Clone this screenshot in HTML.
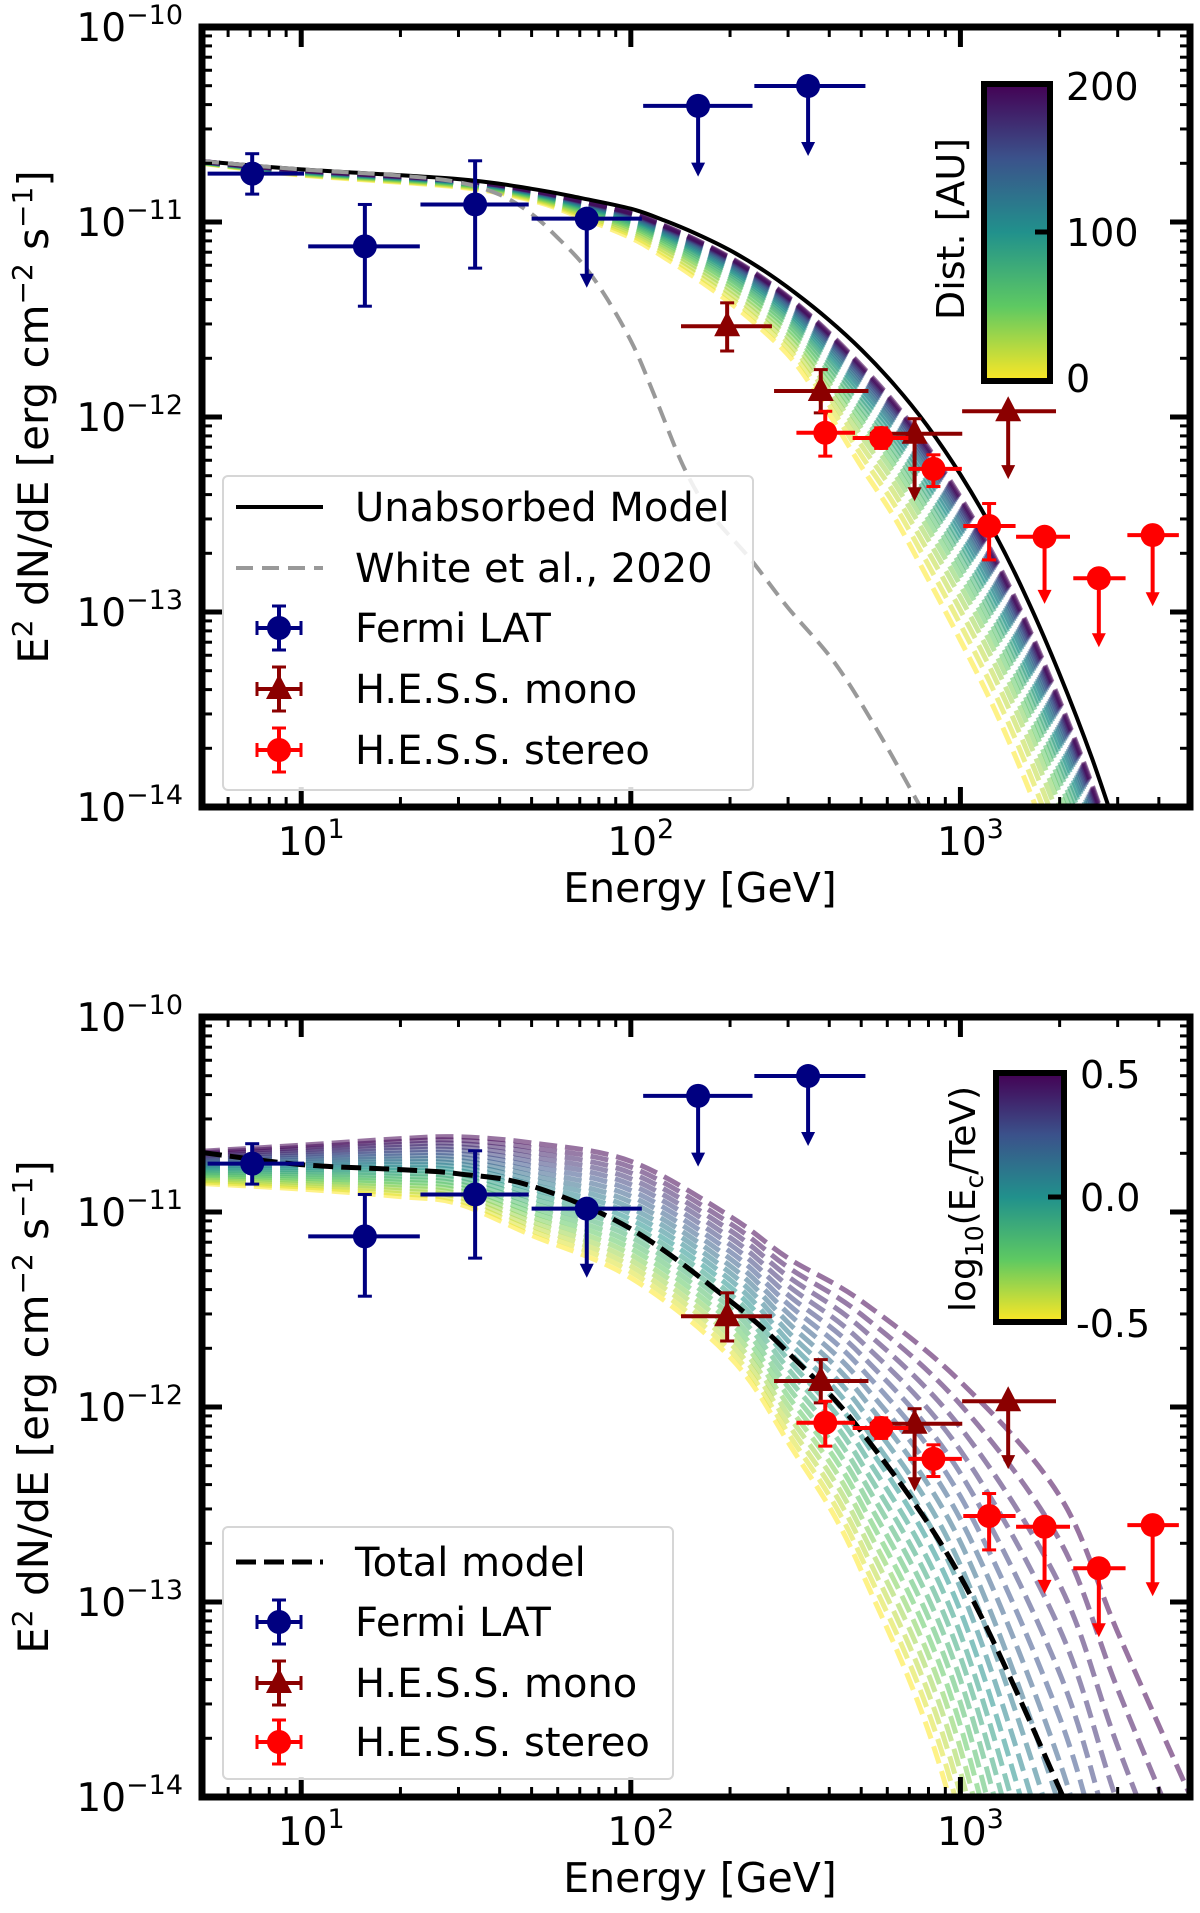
<!DOCTYPE html>
<html><head><meta charset="utf-8">
<style>
html,body{margin:0;padding:0;background:#fff;overflow:hidden;width:1200px;height:1913px;}
svg{display:block;font-family:"DejaVu Sans","Liberation Sans",sans-serif;}
</style></head>
<body>
<svg id="fig" width="1200" height="1913" viewBox="0 0 1200 1913" xmlns="http://www.w3.org/2000/svg">
<defs>
<linearGradient id="vir" x1="0" y1="1" x2="0" y2="0">
<stop offset="0" stop-color="#fde725"/><stop offset="0.25" stop-color="#5ec962"/><stop offset="0.5" stop-color="#21918c"/><stop offset="0.75" stop-color="#3b528b"/><stop offset="1" stop-color="#440154"/>
</linearGradient>
<clipPath id="clipTop"><rect x="202" y="27" width="988" height="780"/></clipPath>
<clipPath id="clipBot"><rect x="202" y="1017" width="988" height="780"/></clipPath>
</defs>
</svg>
<script>
// ---------- data ----------
const fermiE   = [7.1, 15.6, 33.7, 73.5, 160, 345];
const fermiF   = [1.77e-11, 7.5e-12, 1.23e-11, 1.04e-11, 3.94e-11, 4.98e-11];
const fermiElo = [5.2, 10.5, 23, 50, 109, 237];
const fermiEhi = [10.2, 22.9, 49, 108, 234, 515];
const fermiFlo = [1.39e-11, 3.7e-12, 5.8e-12, 4.6e-12, 1.71e-11, 2.18e-11];
const fermiFhi = [2.24e-11, 1.23e-11, 2.06e-11, 1.04e-11, 3.94e-11, 4.98e-11];
const fermiUL  = [0, 0, 0, 1, 1, 1];

const monoE   = [196, 377, 726, 1396];
const monoF   = [2.92e-12, 1.36e-12, 8.2e-13, 1.07e-12];
const monoElo = [142, 272, 531, 1012];
const monoEhi = [268, 526, 1013, 1950];
const monoFlo = [2.18e-12, 1.05e-12, 3.7e-13, 4.8e-13];
const monoFhi = [3.85e-12, 1.75e-12, 9.8e-13, 1.07e-12];
const monoUL  = [0, 0, 1, 1];

const stE   = [389, 575, 828, 1222, 1800, 2630, 3830];
const stF   = [8.3e-13, 7.8e-13, 5.42e-13, 2.76e-13, 2.43e-13, 1.49e-13, 2.48e-13];
const stElo = [318, 471, 695, 1020, 1475, 2200, 3210];
const stEhi = [479, 695, 1010, 1470, 2150, 3170, 4600];
const stFlo = [6.3e-13, 6.9e-13, 4.4e-13, 1.85e-13, 1.1e-13, 6.6e-14, 1.07e-13];
const stFhi = [1.07e-12, 8.8e-13, 6.4e-13, 3.6e-13, 2.43e-13, 1.49e-13, 2.48e-13];
const stUL  = [0, 0, 0, 0, 1, 1, 1];

// top panel models
const topGridE    = [5, 10, 30, 50, 70, 100, 126, 158, 200, 251, 316, 398, 501, 631, 794, 1000, 1259, 1585, 1995, 2512, 3162];
const unabsorbedF = [2.05e-11, 1.86e-11, 1.66e-11, 1.48e-11, 1.33e-11, 1.17e-11, 1.02e-11, 8.7e-12, 7.16e-12, 5.69e-12, 4.32e-12, 3.16e-12, 2.21e-12, 1.46e-12, 9.0e-13, 5.07e-13, 2.6e-13, 1.19e-13, 4.84e-14, 1.76e-14, 5.56e-15];
const absorbed0F  = [2.0e-11, 1.74e-11, 1.51e-11, 1.29e-11, 1.06e-11, 8.3e-12, 6.6e-12, 5.13e-12, 3.85e-12, 2.79e-12, 1.88e-12, 1.05e-12, 5.56e-13, 3.05e-13, 1.5e-13, 7.16e-14, 3.27e-14, 1.33e-14, 4.84e-15, 1.76e-15, 5.56e-16];
const distances   = [0,10,20,30,40,50,60,70,80,90,100,110,120,130,140,150,160,170,180,190,200];
const whiteE = [5, 10, 20, 30, 40, 50, 60, 72, 85, 102, 120, 145, 175, 231, 300, 412, 550, 740, 800];
const whiteF = [2.05e-11, 1.86e-11, 1.73e-11, 1.6e-11, 1.38e-11, 1.1e-11, 8.3e-12, 6.0e-12, 4.0e-12, 2.3e-12, 1.2e-12, 5.5e-13, 3.2e-13, 1.86e-13, 1.05e-13, 5.6e-14, 2.6e-14, 1.07e-14, 8.5e-15];

// bottom panel models
const botGridE = [5, 10, 20, 30, 50, 100, 200, 300, 500, 1000, 2000, 3000, 5000];
const totalF   = [2.02e-11, 1.75e-11, 1.65e-11, 1.57e-11, 1.36e-11, 8.2e-12, 3.5e-12, 1.9e-12, 7.5e-13, 1.35e-13, 1.1e-14, 2e-15, 1e-16];
const hiEcF    = [2.05e-11, 2.2e-11, 2.38e-11, 2.43e-11, 2.26e-11, 1.82e-11, 9.5e-12, 5.8e-12, 3.5e-12, 1.35e-12, 3.5e-13, 7e-14, 1e-14];
const loEcF    = [1.4e-11, 1.31e-11, 1.2e-11, 1.1e-11, 7.6e-12, 4.6e-12, 1.8e-12, 6.6e-13, 1.45e-13, 6e-15, 1e-17, 1e-19, 1e-21];
const logEc    = [-0.5,-0.45,-0.4,-0.35,-0.3,-0.25,-0.2,-0.15,-0.1,-0.05,0,0.05,0.1,0.15,0.2,0.25,0.3,0.35,0.4,0.45,0.5];

// ---------- helpers ----------
const NS = "http://www.w3.org/2000/svg";
const svg = document.getElementById('fig');
function el(tag, attrs, parent){ const e=document.createElementNS(NS,tag); for(const k in attrs) e.setAttribute(k,attrs[k]); (parent||svg).appendChild(e); return e; }
const L10 = Math.log10;
const X = e => 202 + (L10(e) - L10(5)) * 329.6;
function makeY(top){ return v => top + (-10 - L10(v)) * 195; }
const VSTOPS = [[253,231,37],[94,201,98],[33,145,140],[59,82,139],[68,1,84]];
function vir(t){ t=Math.max(0,Math.min(1,t)); const s=t*4, i=Math.min(3,Math.floor(s)), f=s-i; const a=VSTOPS[i], b=VSTOPS[i+1]; return `rgb(${a.map((c,k)=>Math.round(c+(b[k]-c)*f)).join(',')})`; }
function smoothPath(pts){
  let d=`M${pts[0][0].toFixed(1)},${pts[0][1].toFixed(1)}`;
  for(let i=0;i<pts.length-1;i++){
    const p0=pts[Math.max(0,i-1)], p1=pts[i], p2=pts[i+1], p3=pts[Math.min(pts.length-1,i+2)];
    const c1=[p1[0]+(p2[0]-p0[0])/6, p1[1]+(p2[1]-p0[1])/6], c2=[p2[0]-(p3[0]-p1[0])/6, p2[1]-(p3[1]-p1[1])/6];
    d+=` C${c1[0].toFixed(1)},${c1[1].toFixed(1)} ${c2[0].toFixed(1)},${c2[1].toFixed(1)} ${p2[0].toFixed(1)},${p2[1].toFixed(1)}`;
  }
  return d;
}
function curve(es, fs, Y, style, g, name){
  const pts=es.map((e,i)=>[X(e), Y(fs[i])]);
  const p=el('path', Object.assign({d:smoothPath(pts), fill:'none'}, style), g);
  
  
  return p;
}
function text(x,y,str,size,anchor,parent,name){
  const t=el('text',{x:x,y:y,'font-size':size,'text-anchor':anchor||'start',fill:'#000'},parent);
  t.textContent=str;
  
  
  return t;
}
function pow10(x,y,exp,parent,name,anchor){
  const t=el('text',{x:x,y:y,'font-size':39,'text-anchor':anchor||'end',fill:'#000'},parent);
  const a=el('tspan',{},t); a.textContent='10';
  const b=el('tspan',{dy:-17,'font-size':27},t); b.textContent=exp;
  
  
}

function marker(g, type, x, y, color){
  if(type==='tri'){
    el('polygon',{points:`${x},${y-15} ${x-13},${y+10} ${x+13},${y+10}`,fill:color},g);
  } else {
    el('circle',{cx:x,cy:y,r:12,fill:color},g);
  }
}
function series(g, Y, E, F, Elo, Ehi, Flo, Fhi, UL, color, type, name){
  for(let i=0;i<E.length;i++){
    const pg=el('g',{},g);
    
    
    const x=X(E[i]), y=Y(F[i]);
    el('line',{x1:X(Elo[i]),x2:X(Ehi[i]),y1:y,y2:y,stroke:color,'stroke-width':4},pg);
    if(UL[i]){
      const yt=Y(Flo[i]);
      if(Fhi[i]>F[i]){ const yh=Y(Fhi[i]); el('line',{x1:x,x2:x,y1:yh,y2:y,stroke:color,'stroke-width':4},pg); el('line',{x1:x-7,x2:x+7,y1:yh,y2:yh,stroke:color,'stroke-width':3},pg); }
      el('line',{x1:x,x2:x,y1:y,y2:yt-12,stroke:color,'stroke-width':4},pg);
      el('polygon',{points:`${x-7},${yt-14} ${x+7},${yt-14} ${x},${yt}`,fill:color},pg);
    } else {
      const y1=Y(Fhi[i]), y2=Y(Flo[i]);
      el('line',{x1:x,x2:x,y1:y1,y2:y2,stroke:color,'stroke-width':4},pg);
      el('line',{x1:x-7,x2:x+7,y1:y1,y2:y1,stroke:color,'stroke-width':3},pg);
      el('line',{x1:x-7,x2:x+7,y1:y2,y2:y2,stroke:color,'stroke-width':3},pg);
    }
    marker(pg,type,x,y,color);
  }
}
function legendMarker(g,x,y,color,type){
  el('line',{x1:x-22,x2:x+22,y1:y,y2:y,stroke:color,'stroke-width':4},g);
  el('line',{x1:x,x2:x,y1:y-22,y2:y+22,stroke:color,'stroke-width':4},g);
  el('line',{x1:x-22,x2:x-22,y1:y-7,y2:y+7,stroke:color,'stroke-width':3},g);
  el('line',{x1:x+22,x2:x+22,y1:y-7,y2:y+7,stroke:color,'stroke-width':3},g);
  el('line',{x1:x-7,x2:x+7,y1:y-22,y2:y-22,stroke:color,'stroke-width':3},g);
  el('line',{x1:x-7,x2:x+7,y1:y+22,y2:y+22,stroke:color,'stroke-width':3},g);
  marker(g,type,x,y,color);
}

function axes(top, name){
  const Y=makeY(top), g=el('g',{});
  
  
  const bottom=top+780;
  for(let dec=0; dec<4; dec++){
    for(let m=1;m<10;m++){
      const e=m*Math.pow(10,dec);
      if(e<=5||e>=5000) continue;
      const x=X(e), major=(m===1), len=major?20:10, w=major?5:3;
      el('line',{x1:x,x2:x,y1:bottom,y2:bottom-len,stroke:'#000','stroke-width':w},g);
      el('line',{x1:x,x2:x,y1:top,y2:top+len,stroke:'#000','stroke-width':w},g);
    }
  }
  for(let dec=-14; dec<-10; dec++){
    for(let m=1;m<10;m++){
      const v=m*Math.pow(10,dec);
      const y=Y(v), major=(m===1), len=major?20:10, w=major?5:3;
      if(m===1 && dec===-14) continue;
      el('line',{x1:202,x2:202+len,y1:y,y2:y,stroke:'#000','stroke-width':w},g);
      el('line',{x1:1190,x2:1190-len,y1:y,y2:y,stroke:'#000','stroke-width':w},g);
    }
  }
  el('rect',{x:202,y:top,width:988,height:780,fill:'none',stroke:'#000','stroke-width':7},g);
  ['−10','−11','−12','−13','−14'].forEach((s,i)=>pow10(183, top+i*195+14, s, g, 'y-tick-label'));
  [['1',10],['2',100],['3',1000]].forEach(([s,e])=>pow10(X(e)+10, bottom+48, s, g, 'x-tick-label','middle'));
  text(700, bottom+95, 'Energy [GeV]', 41, 'middle', g, 'x-axis-title');
  const yl=el('text',{x:0,y:0,'font-size':42,'text-anchor':'middle',transform:`translate(48,${top+390}) rotate(-90)`},g);
  
  
  yl.innerHTML='E<tspan dy="-16" font-size="28">2</tspan><tspan dy="16"> dN/dE [erg cm</tspan><tspan dy="-16" font-size="28">−2</tspan><tspan dy="16"> s</tspan><tspan dy="-16" font-size="28">−1</tspan><tspan dy="16">]</tspan>';
  return Y;
}

// ================= TOP PANEL =================
const Yt = makeY(27);
const gTop = el('g',{'clip-path':'url(#clipTop)'});


distances.forEach((d,k)=>{
  const f=Math.exp(-d/100);
  const fs=topGridE.map((e,i)=>unabsorbedF[i]*Math.pow(absorbed0F[i]/unabsorbedF[i], f));
  curve(topGridE, fs, Yt, {stroke:vir(d/200),'stroke-width':5,'stroke-dasharray':'18 8','stroke-opacity':0.55}, gTop, 'absorbed-model-curve');
});
curve(topGridE, unabsorbedF, Yt, {stroke:'#000','stroke-width':4}, gTop, 'unabsorbed-model-line');
curve(whiteE, whiteF, Yt, {stroke:'#999','stroke-width':4,'stroke-dasharray':'17 9'}, gTop, 'white-2020-line');
series(gTop, Yt, fermiE, fermiF, fermiElo, fermiEhi, fermiFlo, fermiFhi, fermiUL, '#000080', 'circle', 'fermi-lat');
series(gTop, Yt, monoE, monoF, monoElo, monoEhi, monoFlo, monoFhi, monoUL, '#8b0000', 'tri', 'hess-mono');
series(gTop, Yt, stE, stF, stElo, stEhi, stFlo, stFhi, stUL, '#ff0000', 'circle', 'hess-stereo');
axes(27, 'top');

const lg1=el('g',{});  
el('rect',{x:223,y:476,width:530,height:314,rx:5,fill:'#fff','fill-opacity':0.85,stroke:'#d6d6d6','stroke-width':2},lg1);
el('line',{x1:236,x2:323,y1:507,y2:507,stroke:'#000','stroke-width':4},lg1);
text(355,521,'Unabsorbed Model',40,'start',lg1,'legend-unabsorbed');
el('line',{x1:236,x2:323,y1:568,y2:568,stroke:'#999','stroke-width':4,'stroke-dasharray':'17 9'},lg1);
text(355,582,'White et al., 2020',40,'start',lg1,'legend-white');
legendMarker(lg1,279,628,'#000080','circle'); text(355,642,'Fermi LAT',40,'start',lg1,'legend-fermi');
legendMarker(lg1,279,689,'#8b0000','tri'); text(355,703,'H.E.S.S. mono',40,'start',lg1,'legend-mono');
legendMarker(lg1,279,750,'#ff0000','circle'); text(355,764,'H.E.S.S. stereo',40,'start',lg1,'legend-stereo');

const cb1=el('g',{});  
el('rect',{x:984,y:84,width:66,height:297,fill:'url(#vir)',stroke:'#000','stroke-width':6},cb1);
el('line',{x1:1035,x2:1050,y1:232,y2:232,stroke:'#000','stroke-width':5},cb1);
text(1066,100,'200',38,'start',cb1,'colorbar-tick'); text(1066,246,'100',38,'start',cb1,'colorbar-tick'); text(1066,392,'0',38,'start',cb1,'colorbar-tick');
const cl1=text(0,0,'Dist. [AU]',38,'middle',cb1,'colorbar-title'); cl1.setAttribute('transform','translate(964,229) rotate(-90)');

// ================= BOTTOM PANEL =================
const Yb = makeY(1017);
const gBot = el('g',{'clip-path':'url(#clipBot)'});


logEc.forEach(p=>{
  const t=(p+0.5);
  const fs=botGridE.map((e,i)=>Math.pow(10, L10(loEcF[i]) + t*(L10(hiEcF[i])-L10(loEcF[i]))));
  curve(botGridE, fs, Yb, {stroke:vir(t),'stroke-width':5,'stroke-dasharray':'18 8','stroke-opacity':0.55}, gBot, 'cutoff-model-curve');
});
curve(botGridE, totalF, Yb, {stroke:'#000','stroke-width':5,'stroke-dasharray':'20 8'}, gBot, 'total-model-line');
series(gBot, Yb, fermiE, fermiF, fermiElo, fermiEhi, fermiFlo, fermiFhi, fermiUL, '#000080', 'circle', 'fermi-lat');
series(gBot, Yb, monoE, monoF, monoElo, monoEhi, monoFlo, monoFhi, monoUL, '#8b0000', 'tri', 'hess-mono');
series(gBot, Yb, stE, stF, stElo, stEhi, stFlo, stFhi, stUL, '#ff0000', 'circle', 'hess-stereo');
axes(1017, 'bottom');

const lg2=el('g',{});  
el('rect',{x:223,y:1527,width:450,height:252,rx:5,fill:'#fff','fill-opacity':0.85,stroke:'#d6d6d6','stroke-width':2},lg2);
el('line',{x1:236,x2:323,y1:1562,y2:1562,stroke:'#000','stroke-width':5,'stroke-dasharray':'20 8'},lg2);
text(355,1576,'Total model',40,'start',lg2,'legend-total');
legendMarker(lg2,279,1622,'#000080','circle'); text(355,1636,'Fermi LAT',40,'start',lg2,'legend-fermi');
legendMarker(lg2,279,1683,'#8b0000','tri'); text(355,1697,'H.E.S.S. mono',40,'start',lg2,'legend-mono');
legendMarker(lg2,279,1742,'#ff0000','circle'); text(355,1756,'H.E.S.S. stereo',40,'start',lg2,'legend-stereo');

const cb2=el('g',{});  
el('rect',{x:996,y:1073,width:68,height:249,fill:'url(#vir)',stroke:'#000','stroke-width':6},cb2);
el('line',{x1:1048,x2:1064,y1:1197,y2:1197,stroke:'#000','stroke-width':5},cb2);
text(1080,1088,'0.5',38,'start',cb2,'colorbar-tick'); text(1080,1211,'0.0',38,'start',cb2,'colorbar-tick'); text(1076,1337,'-0.5',38,'start',cb2,'colorbar-tick');
const cl2=el('text',{x:0,y:0,'font-size':36,'text-anchor':'middle',transform:'translate(975,1199) rotate(-90)'},cb2);


cl2.innerHTML='log<tspan dy="8" font-size="25">10</tspan><tspan dy="-8">(E</tspan><tspan dy="8" font-size="25">c</tspan><tspan dy="-8">/TeV)</tspan>';
</script>
</body></html>
